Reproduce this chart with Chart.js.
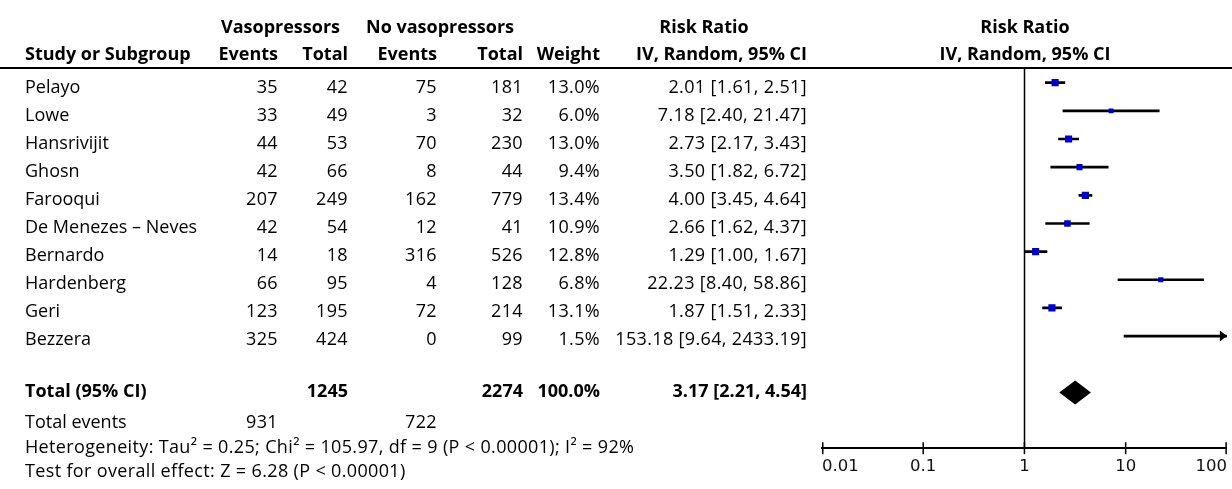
<!DOCTYPE html>
<html>
<head>
<meta charset="utf-8">
<script src="https://cdn.jsdelivr.net/npm/chart.js@4.4.1/dist/chart.umd.min.js"></script>
<style>
  html, body { margin: 0; padding: 0; background: #fff; }
  #wrap { position: relative; width: 1232px; height: 489px; overflow: hidden; font-family: "Open Sans", "Noto Sans", sans-serif; font-size: 18px; color: #000; }
  #forest { position: absolute; left: 0; top: 0; }
  .t { position: absolute; height: 26px; line-height: 26px; white-space: nowrap; }
  .b { font-weight: bold; }
  .n { letter-spacing: 0.35px; }
  .rule { position: absolute; left: 0; top: 67px; width: 1232px; height: 0; border-top: 2px solid #000; }
</style>
</head>
<body>
<div id="wrap">
  <div class="rule"></div>
  <canvas id="forest" width="1232" height="489"></canvas>
</div>
<script>
const studies = ['Pelayo', 'Lowe', 'Hansrivijit', 'Ghosn', 'Farooqui', 'De Menezes \u2013 Neves', 'Bernardo', 'Hardenberg', 'Geri', 'Bezzera'];
const vasoEvents = [35, 33, 44, 42, 207, 42, 14, 66, 123, 325];
const vasoTotal = [42, 49, 53, 66, 249, 54, 18, 95, 195, 424];
const noVasoEvents = [75, 3, 70, 8, 162, 12, 316, 4, 72, 0];
const noVasoTotal = [181, 32, 230, 44, 779, 41, 526, 128, 214, 99];
const weights = [13.0, 6.0, 13.0, 9.4, 13.4, 10.9, 12.8, 6.8, 13.1, 1.5];
const riskRatio = [2.01, 7.18, 2.73, 3.50, 4.00, 2.66, 1.29, 22.23, 1.87, 153.18];
const ciLow = [1.61, 2.40, 2.17, 1.82, 3.45, 1.62, 1.00, 8.40, 1.51, 9.64];
const ciHigh = [2.51, 21.47, 3.43, 6.72, 4.64, 4.37, 1.67, 58.86, 2.33, 2433.19];

const pooled = [3.17, 2.21, 4.54]; // estimate, lower, upper
const totals = [1245, 2274];
const totalEvents = [931, 722];
const totalWeight = 100.0;

const tickValues = [0.01, 0.1, 1, 10, 100];
const tickLabels = ['0.01', '0.1', '1', '10', '100'];

// layout of the table (pixels)
const rowTop = 86;
const rowStep = 28.07;
const totalRow = 11;
const nameLeft = 25;
const col = { vEv: 278, vTot: 348, nEv: 437, nTot: 523, weight: 600, rr: 807 };

const wrap = document.getElementById('wrap');

function addText(txt, x, yc, opts = {}) {
  const el = document.createElement('div');
  el.className = 't' + (opts.bold ? ' b' : '') + (opts.num ? ' n' : '');
  el.textContent = txt;
  el.style.top = (yc - 13.5) + 'px';
  if (opts.align === 'right') {
    el.style.right = (1232 - x) + 'px';
  } else if (opts.align === 'center') {
    el.style.left = (x - 200) + 'px';
    el.style.width = '400px';
    el.style.textAlign = 'center';
  } else {
    el.style.left = x + 'px';
  }
  wrap.appendChild(el);
  return el;
}

function fmtCI(est, lo, hi) {
  return est.toFixed(2) + ' [' + lo.toFixed(2) + ', ' + hi.toFixed(2) + ']';
}

// headers
addText('Vasopressors', 221, 26, { bold: true });
addText('No vasopressors', 366, 26, { bold: true });
addText('Risk Ratio', 704, 26, { bold: true, align: 'center' });
addText('Risk Ratio', 1025, 26, { bold: true, align: 'center' });
addText('Study or Subgroup', nameLeft, 53, { bold: true });
addText('Events', col.vEv, 53, { bold: true, align: 'right' });
addText('Total', col.vTot, 53, { bold: true, align: 'right' });
addText('Events', col.nEv, 53, { bold: true, align: 'right' });
addText('Total', col.nTot, 53, { bold: true, align: 'right' });
addText('Weight', col.weight, 53, { bold: true, align: 'right' });
addText('IV, Random, 95% CI', col.rr, 53, { bold: true, align: 'right' });
addText('IV, Random, 95% CI', 1025, 53, { bold: true, align: 'center' });

// study rows
studies.forEach((name, i) => {
  const y = rowTop + i * rowStep;
  addText(name, nameLeft, y);
  addText(String(vasoEvents[i]), col.vEv, y, { align: 'right', num: true });
  addText(String(vasoTotal[i]), col.vTot, y, { align: 'right', num: true });
  addText(String(noVasoEvents[i]), col.nEv, y, { align: 'right', num: true });
  addText(String(noVasoTotal[i]), col.nTot, y, { align: 'right', num: true });
  addText(weights[i].toFixed(1) + '%', col.weight, y, { align: 'right', num: true });
  addText(fmtCI(riskRatio[i], ciLow[i], ciHigh[i]), col.rr, y, { align: 'right', num: true });
});

// total rows
const yTot = 390;
addText('Total (95% CI)', nameLeft, yTot, { bold: true });
addText(String(totals[0]), col.vTot, yTot, { bold: true, align: 'right' });
addText(String(totals[1]), col.nTot, yTot, { bold: true, align: 'right' });
addText(totalWeight.toFixed(1) + '%', col.weight, yTot, { bold: true, align: 'right' });
addText(fmtCI(pooled[0], pooled[1], pooled[2]), col.rr, yTot, { bold: true, align: 'right' });
addText('Total events', nameLeft, 421);
addText(String(totalEvents[0]), col.vEv, 421, { align: 'right', num: true });
addText(String(totalEvents[1]), col.nEv, 421, { align: 'right', num: true });
addText('Heterogeneity: Tau\u00b2 = 0.25; Chi\u00b2 = 105.97, df = 9 (P < 0.00001); I\u00b2 = 92%', nameLeft, 446, { num: true });
addText('Test for overall effect: Z = 6.28 (P < 0.00001)', nameLeft, 470, { num: true });

// plot extras: null line, diamond, arrow, tick marks across the axis
const forestExtras = {
  id: 'forestExtras',
  afterDatasetsDraw(chart) {
    const { ctx, chartArea, scales } = chart;
    const x = scales.x;
    const y = scales.y;
    ctx.save();
    ctx.strokeStyle = '#000';
    ctx.fillStyle = '#000';

    // line of no effect
    const x1 = Math.round(x.getPixelForValue(1)) + 0.5;
    ctx.lineWidth = 1.5;
    ctx.beginPath();
    ctx.moveTo(x1, chartArea.top);
    ctx.lineTo(x1, chartArea.bottom);
    ctx.stroke();

    // arrows for intervals running past the axis
    ciHigh.forEach((hi, i) => {
      if (hi <= x.max) return;
      const py = y.getPixelForValue(i);
      const tip = chartArea.right;
      ctx.beginPath();
      ctx.moveTo(tip, py);
      ctx.lineTo(tip - 7, py - 5.5);
      ctx.lineTo(tip - 7, py + 5.5);
      ctx.closePath();
      ctx.fill();
    });

    // pooled diamond
    const cy = y.getPixelForValue(totalRow);
    ctx.beginPath();
    ctx.moveTo(x.getPixelForValue(pooled[1]), cy);
    ctx.lineTo(x.getPixelForValue(pooled[0]), cy - 12);
    ctx.lineTo(x.getPixelForValue(pooled[2]), cy);
    ctx.lineTo(x.getPixelForValue(pooled[0]), cy + 12);
    ctx.closePath();
    ctx.fill();

    // tick marks
    ctx.lineWidth = 1.5;
    tickValues.forEach((v) => {
      let px = x.getPixelForValue(v);
      px = Math.min(Math.max(px, chartArea.left + 0.75), chartArea.right - 0.75);
      ctx.beginPath();
      ctx.moveTo(px, chartArea.bottom - 6);
      ctx.lineTo(px, chartArea.bottom + 6);
      ctx.stroke();
    });
    ctx.restore();
  },
};

const canvas = document.getElementById('forest');
new Chart(canvas, {
  data: {
    datasets: [
      {
        type: 'bar',
        label: 'CI',
        order: 2,
        data: studies.map((s, i) => ({ y: i, x: [ciLow[i], ciHigh[i]] })),
        backgroundColor: '#000',
        barThickness: 2,
        borderWidth: 0,
        clip: 0,
      },
      {
        type: 'scatter',
        label: 'Risk ratio',
        order: 1,
        data: studies.map((s, i) => ({ x: riskRatio[i], y: i })),
        pointStyle: 'rect',
        pointRadius: weights.map((w) => 1.4 * Math.sqrt(w)),
        backgroundColor: '#0000cc',
        borderWidth: 0,
        clip: 0,
      },
    ],
  },
  options: {
    indexAxis: 'y',
    responsive: false,
    animation: false,
    events: [],
    layout: { padding: { left: 822, right: 4, top: 68, bottom: 3 } },
    plugins: {
      legend: { display: false },
      tooltip: { enabled: false },
    },
    scales: {
      x: {
        type: 'logarithmic',
        position: 'bottom',
        min: tickValues[0],
        max: tickValues[tickValues.length - 1],
        afterBuildTicks(scale) {
          scale.ticks = tickValues.map((v) => ({ value: v }));
        },
        afterFit(scale) {
          scale.paddingLeft = 0;
          scale.paddingRight = 0;
        },
        grid: { display: true, drawOnChartArea: false, drawTicks: false },
        border: { display: true, color: '#000', width: 2 },
        ticks: {
          align: 'inner',
          padding: 9,
          color: '#111',
          font: { family: 'DejaVu Sans', size: 16.5 },
          maxRotation: 0,
          autoSkip: false,
          callback(value, index) {
            return tickLabels[index];
          },
        },
      },
      y: {
        type: 'linear',
        display: false,
        offset: false,
        reverse: true,
        min: -0.52,
        max: 12.98,
      },
    },
  },
  plugins: [forestExtras],
});
</script>
</body>
</html>
